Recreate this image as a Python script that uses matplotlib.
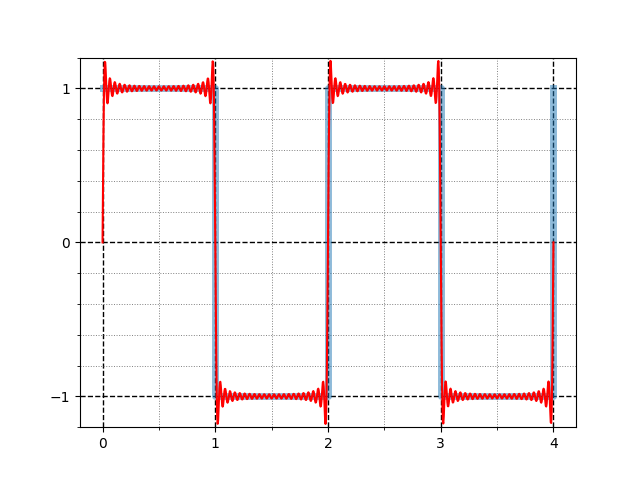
import numpy as np
import matplotlib.pyplot as plt
from matplotlib.ticker import MultipleLocator

# square wave corners (period 2, amplitude 1)
square_x = [0, 1, 1, 2, 2, 3, 3, 4, 4]
square_y = [1, 1, -1, -1, 1, 1, -1, -1, 1]

# Fourier partial sum of the square wave, odd harmonics only
n_terms = 23
harmonics = np.arange(1, 2 * n_terms, 2)

x = np.linspace(0, 4, 1000)
y = np.zeros_like(x)
for k in harmonics:
    y += 4 / (np.pi * k) * np.sin(k * np.pi * x)

fig, ax = plt.subplots(figsize=(6.4, 4.8))
ax.plot(square_x, square_y, lw=5, alpha=0.5, color="C0")
ax.plot(x, y, color="red", lw=1.5)

ax.set_xlim(-0.2, 4.2)
ax.set_ylim(-1.2, 1.2)
ax.xaxis.set_major_locator(MultipleLocator(1))
ax.xaxis.set_minor_locator(MultipleLocator(0.5))
ax.yaxis.set_major_locator(MultipleLocator(1))
ax.yaxis.set_minor_locator(MultipleLocator(0.2))
ax.grid(which="major", color="black", linestyle="--", linewidth=1)
ax.grid(which="minor", color="gray", linestyle=":", linewidth=0.7)

plt.savefig("out.png", dpi=100)
